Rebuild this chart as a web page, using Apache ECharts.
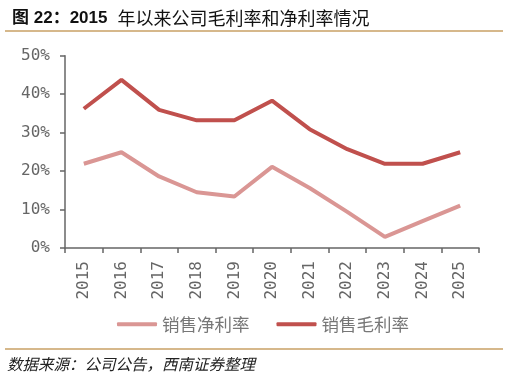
<!DOCTYPE html>
<html><head><meta charset="utf-8">
<script src="https://cdn.jsdelivr.net/npm/echarts@6/dist/echarts.min.js"></script>
<style>html,body{margin:0;padding:0;background:#fff}#c{width:508px;height:381px}</style>
</head><body><div id="c"></div>
<script>
const categories = ['2015','2016','2017','2018','2019','2020','2021','2022','2023','2024','2025'];
const netMargin = [21.9, 24.9, 18.6, 14.5, 13.4, 21.1, 15.6, 9.4, 2.9, 7.0, 11.0];
const grossMargin = [36.2, 43.7, 35.9, 33.2, 33.2, 38.3, 30.9, 25.7, 21.9, 21.9, 24.9];
const yTicks = [0, 10, 20, 30, 40, 50];

const chart = echarts.init(document.getElementById('c'), null, {renderer: 'canvas'});
const mono = 'DejaVu Sans Mono';
chart.setOption({
  animation: false,
  backgroundColor: '#fff',
  title: {
    text: '{b|图 22：2015}  {n|年以来公司毛利率和净利率情况}',
    left: 7, top: 4,
    textStyle: {
      rich: {
        b: {fontSize: 17, fontWeight: 'bold', color: '#111', fontFamily: 'Liberation Sans, Noto Sans CJK SC'},
        n: {fontSize: 18, fontWeight: 'normal', color: '#111', fontFamily: 'Noto Sans CJK SC'}
      }
    }
  },
  graphic: [
    {type: 'line', shape: {x1: 5, y1: 31, x2: 503, y2: 31}, style: {stroke: '#C9A064', lineWidth: 1.5}},
    {type: 'line', shape: {x1: 5, y1: 349, x2: 503, y2: 349}, style: {stroke: '#C9A064', lineWidth: 1.5}},
    {type: 'text', left: 7, top: 356, style: {text: '数据来源：公司公告，西南证券整理', font: 'italic 15.5px "Noto Sans CJK SC"', fill: '#222'}}
  ],
  grid: {left: 65, right: 29, top: 55.7, bottom: 133, containLabel: false},
  legend: {
    data: ['销售净利率', '销售毛利率'],
    bottom: 43, left: 112,
    itemWidth: 40, itemHeight: 4, itemGap: 27,
    icon: 'roundRect',
    textStyle: {fontSize: 17.5, color: '#777', fontFamily: 'Noto Sans CJK SC'}
  },
  xAxis: {
    type: 'category', data: categories, boundaryGap: true,
    axisLine: {lineStyle: {color: '#666', width: 1.5}},
    axisTick: {show: true, alignWithLabel: false, length: 5, lineStyle: {color: '#666', width: 1.5}},
    axisLabel: {rotate: 90, fontSize: 16, color: '#666', fontFamily: mono, margin: 13, interval: 0}
  },
  yAxis: {
    type: 'value', min: 0, max: 50, interval: 10,
    splitLine: {show: false},
    axisLine: {show: true, lineStyle: {color: '#666', width: 1.5}},
    axisTick: {show: true, length: 5, lineStyle: {color: '#666', width: 1.5}},
    axisLabel: {fontSize: 16, color: '#666', fontFamily: mono, margin: 15,
      formatter: v => yTicks.includes(v) ? v + '%' : ''}
  },
  series: [
    {name: '销售净利率', type: 'line', data: netMargin, symbol: 'none',
      lineStyle: {color: '#DA9694', width: 4}, itemStyle: {color: '#DA9694'}},
    {name: '销售毛利率', type: 'line', data: grossMargin, symbol: 'none',
      lineStyle: {color: '#C0504D', width: 4}, itemStyle: {color: '#C0504D'}}
  ]
});
</script></body></html>
